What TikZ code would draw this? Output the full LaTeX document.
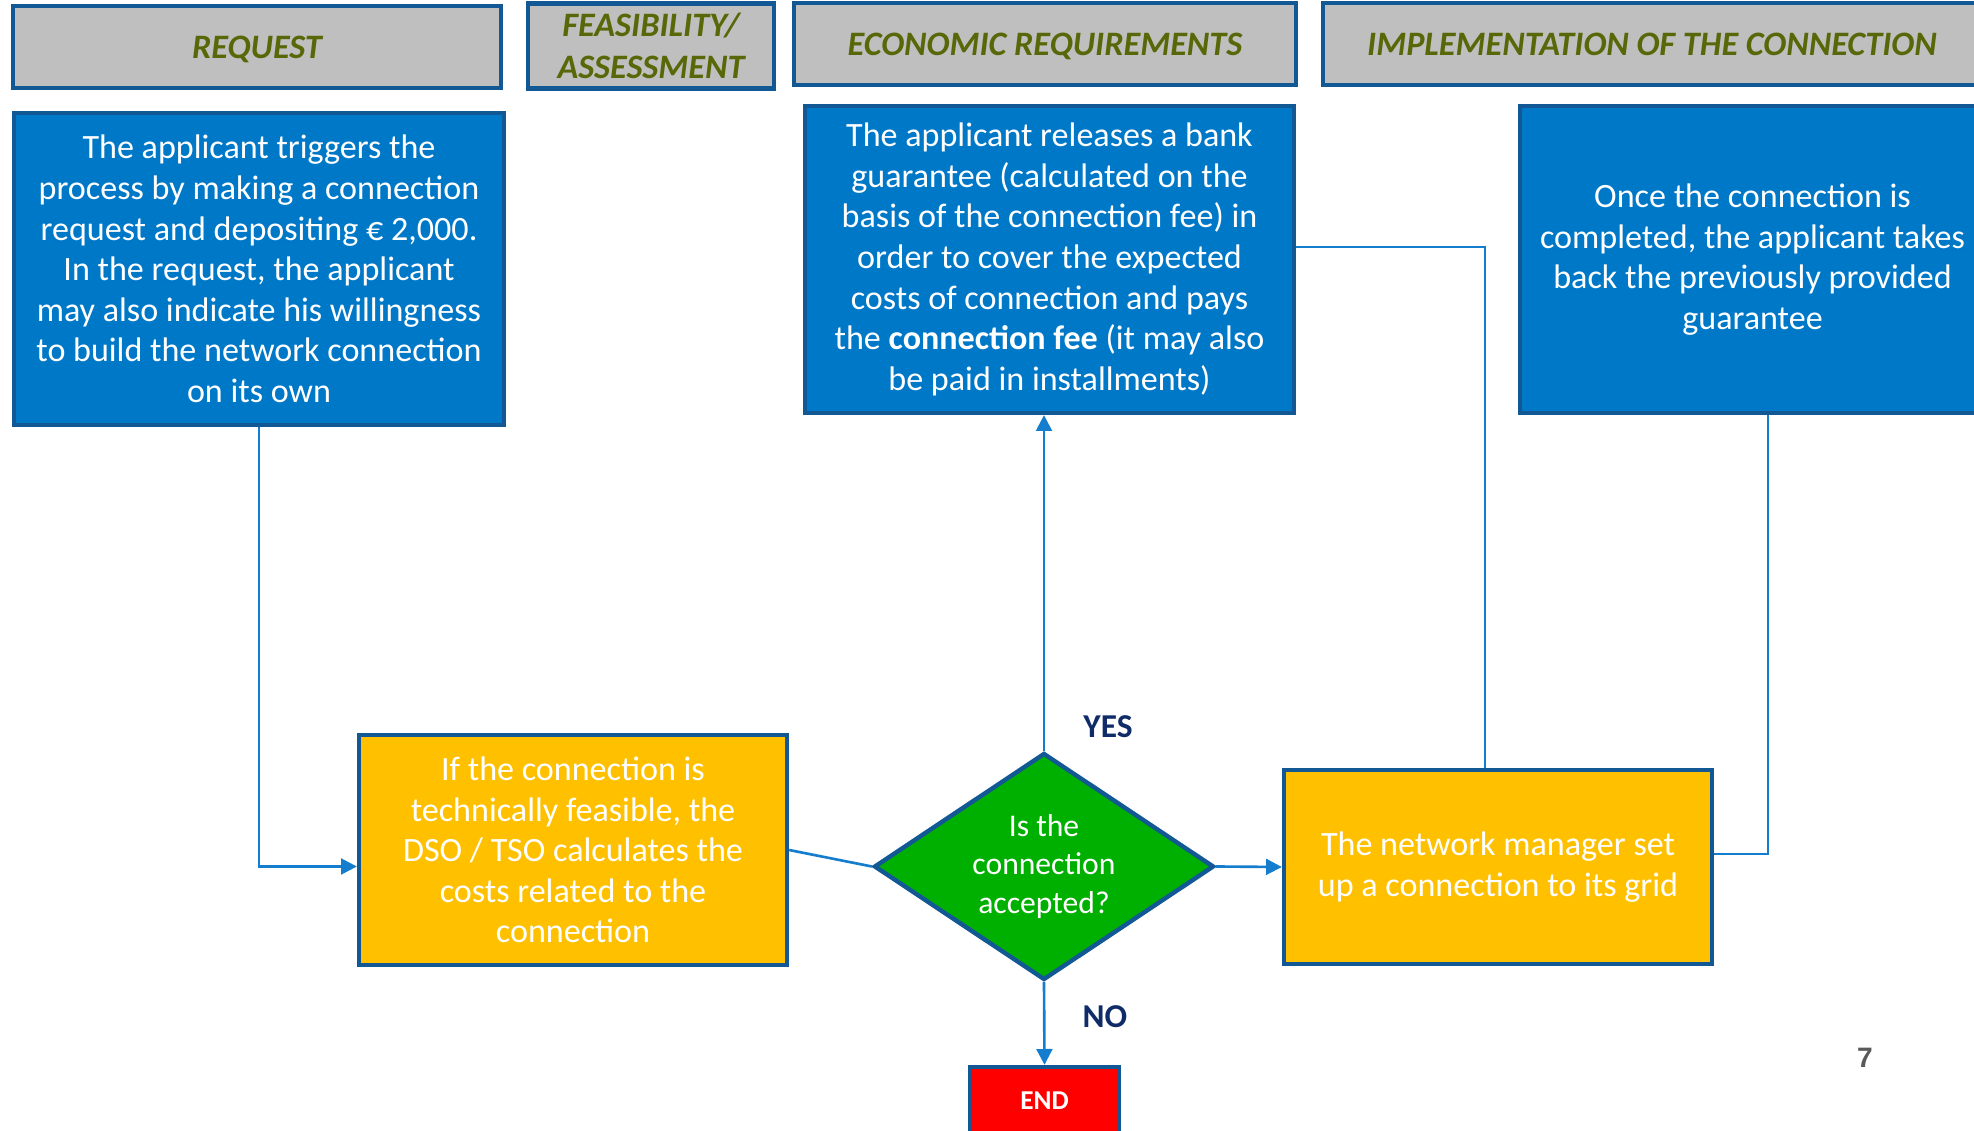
\documentclass[tikz,border=0pt]{standalone}
\usepackage{fontspec}
\setmainfont{Carlito}
\newfontfamily\numfont{Liberation Sans}
\usetikzlibrary{shapes.geometric,arrows.meta}

\definecolor{boxblue}{RGB}{0,120,200}
\definecolor{edgeblue}{RGB}{18,88,148}
\definecolor{linkblue}{RGB}{20,125,205}
\definecolor{headgray}{RGB}{191,191,191}
\definecolor{olive}{RGB}{88,104,8}
\definecolor{boxyellow}{RGB}{255,192,0}
\definecolor{boxgreen}{RGB}{0,176,0}
\definecolor{navy}{RGB}{16,44,104}

\tikzset{
  header/.style={draw=edgeblue, line width=2.5pt, fill=headgray, inner sep=0pt,
    text=olive, align=center, font=\fontsize{19.5}{23.5}\selectfont\bfseries\itshape},
  oneline/.style={text height=12.6pt, text depth=0pt},
  bluebox/.style={draw=edgeblue, line width=2.5pt, fill=boxblue, inner sep=0pt,
    text=white, align=center, font=\fontsize{19.4}{23.1}\selectfont},
  yellowbox/.style={bluebox, fill=boxyellow},
  decision/.style={diamond, aspect=1.5, draw=edgeblue, line width=2.5pt, fill=boxgreen, inner sep=0pt,
    text=white, align=center, font=\fontsize{18}{21.8}\selectfont},
  link/.style={draw=linkblue, line width=1.5pt},
  arrow/.style={link, -{Triangle[length=9pt,width=9pt]}},
  answer/.style={text=navy, font=\fontsize{19}{22}\selectfont\bfseries}
}

\begin{document}
\begin{tikzpicture}[x=0.02cm, y=-0.02cm]
    \useasboundingbox (0,0) rectangle (1974,1131);
    \clip (0,0) rectangle (1974,1131);

    % phase headers
    \node[header, oneline, minimum width=9.76cm, minimum height=1.64cm] (hreq) at (257,47) {REQUEST};
    \node[header, minimum width=4.92cm, minimum height=1.7cm] (hfeas) at (651,46) {FEASIBILITY/\\ASSESSMENT};
    \node[header, oneline, minimum width=10.04cm, minimum height=1.64cm] (hecon) at (1045,44) {ECONOMIC REQUIREMENTS};
    \node[header, oneline, minimum width=13.16cm, minimum height=1.64cm] (himpl) at (1652,44) {IMPLEMENTATION OF THE CONNECTION};

    % steps
    \node[bluebox, minimum width=9.8cm, minimum height=6.24cm] (req) at (259,269)
      {The applicant triggers the\\process by making a connection\\request and depositing € 2,000.\\In the request, the applicant\\may also indicate his willingness\\to build the network connection\\on its own};
    \node[bluebox, minimum width=9.78cm, minimum height=6.14cm] (econ) at (1049.5,259.5)
      {The applicant releases a bank\\guarantee (calculated on the\\basis of the connection fee) in\\order to cover the expected\\costs of connection and pays\\the \textbf{connection fee} (it may also\\be paid in installments)};
    \node[bluebox, minimum width=9.3cm, minimum height=6.14cm] (back) at (1752.5,259.5)
      {Once the connection is\\completed, the applicant takes\\back the previously provided\\guarantee};
    \node[yellowbox, minimum width=8.56cm, minimum height=4.6cm] (feas) at (573,850)
      {If the connection is\\technically feasible, the\\DSO / TSO calculates the\\costs related to the\\connection};
    \node[decision, minimum width=6.8cm, minimum height=4.54cm] (accept) at (1044,866.5)
      {Is the\\connection\\accepted?};
    \node[yellowbox, minimum width=8.56cm, minimum height=3.88cm] (grid) at (1498,867)
      {The network manager set\\up a connection to its grid};
    \node[bluebox, fill=red, minimum width=2.98cm, minimum height=1.36cm,
      font=\fontsize{15.5}{18}\selectfont\bfseries] (stop) at (1044.5,1101) {END};

    \node[answer] (yes) at (1108,727) {YES};
    \node[answer] (no) at (1105,1017) {NO};
    \node[text=black!65, font=\numfont\fontsize{16}{19}\selectfont\bfseries] (page) at (1865,1058) {7};

    % connectors
    \draw[arrow] (req.south) |- (feas.west |- accept.west);
    \draw[link] (feas.east) -- (accept.west);
    \draw[arrow] (accept.north) -- (accept.north |- econ.south);
    \draw[arrow] (accept.south) -- (stop.north);
    \draw[arrow] (accept.east) -- (grid.west);
    \draw[link] ([yshift=0.25cm]econ.east) -| ([xshift=-0.26cm]grid.north);
    \draw[link] ([yshift=0.26cm]grid.east) -| ([xshift=0.31cm]back.south);
\end{tikzpicture}
\end{document}
